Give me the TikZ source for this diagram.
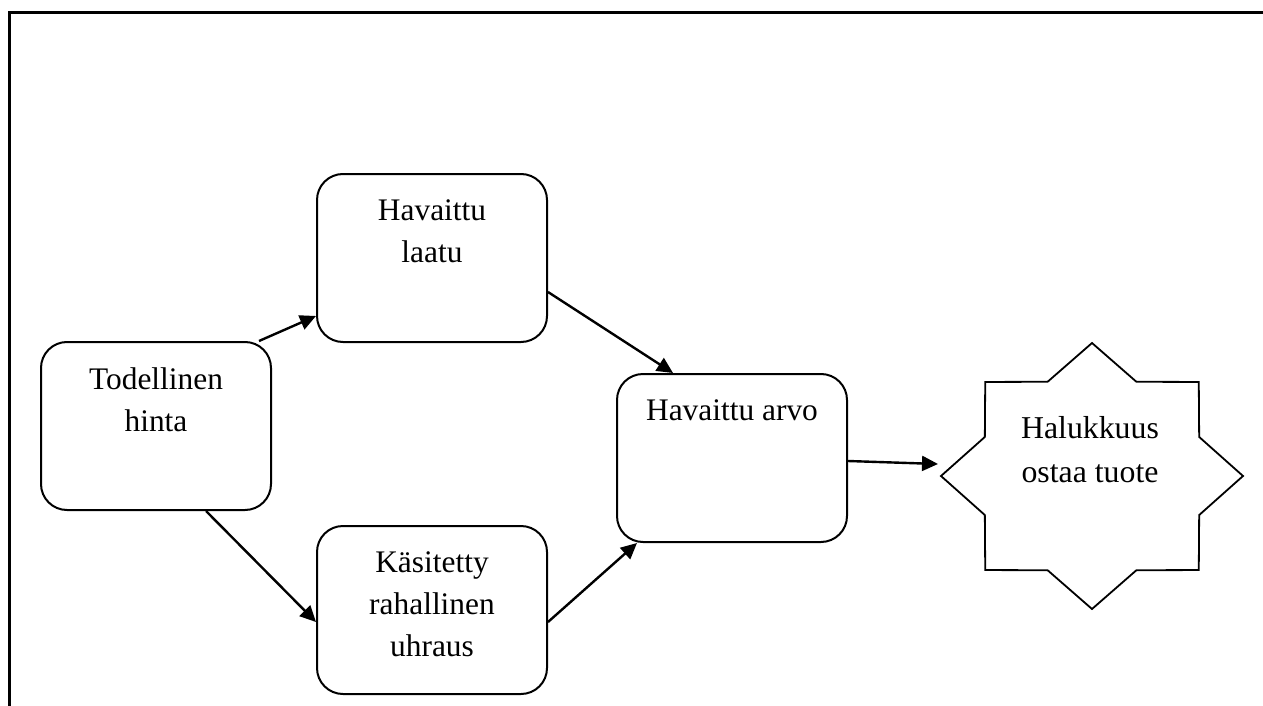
\documentclass[tikz,border=0pt]{standalone}
\usepackage{fontspec}
\setmainfont{Liberation Serif}
\usetikzlibrary{arrows.meta,calc}
\definecolor{ink}{HTML}{000000}
\tikzset{
  box/.style      ={draw=ink, fill=white, line width=1pt, rounded corners=13pt,
                    minimum width=115pt, minimum height=84pt, inner sep=0pt,
                    font=\fontsize{15.7}{21}\selectfont,
                    execute at begin node={\fontsize{15.7}{21}\selectfont
                      \begin{minipage}[c][84pt][t]{115pt}\centering\vspace*{12.8pt}},
                    execute at end node={\end{minipage}}},
  startext/.style ={align=center, font=\fontsize{15.9}{22}\selectfont},
  starline/.style ={draw=ink, line width=0.9pt},
  arr/.style      ={-{Triangle[length=8pt,width=7.5pt]}, line width=1.2pt, draw=ink},
  frame/.style    ={draw=ink, line width=1.5pt},
}
\begin{document}
\begin{tikzpicture}[x=0.5pt,y=-0.5pt]
  \useasboundingbox (0,0) rectangle (1263,706);
  % page frame
  \draw[frame] (9,706) -- (9,13) -- (1263,13);
  % boxes
  \node[box] (price)     at (156,426) {Todellinen\\hinta};
  \node[box] (quality)   at (432,258) {Havaittu\\laatu};
  \node[box] (sacrifice) at (432,610) {Käsitetty\\rahallinen\\uhraus};
  \node[box] (value)     at (732,458) {Havaittu arvo};
  % eight-pointed star
  \coordinate (star) at (1092,476);
  \draw[starline] ($(star)+(151,0)$)
    \foreach \i in {1,...,15} {
      -- ($(star)+({(151-35*mod(\i,2))*cos(22.5*\i)},{(133-31*mod(\i,2))*sin(22.5*\i)})$)
    } -- cycle;
  \node[startext] (want) at ($(star)+(-2,-26)$) {Halukkuus\\ostaa tuote};
  \coordinate (want tip) at ($(star)+(-154,-12)$);
  % arrows
  \draw[arr] ($(price.north east)+(-13,0)$) -- ($(quality.south west)+(0,-27)$);
  \draw[arr] ($(price.south)+(50,0)$) -- ($(sacrifice.west)+(0,12)$);
  \draw[arr] ($(quality.east)+(0,34)$) -- ($(value.north)+(-59,0)$);
  \draw[arr] ($(sacrifice.east)+(0,12)$) -- ($(value.south west)+(21,0)$);
  \draw[arr] ($(value.east)+(0,3)$) -- (want tip);
\end{tikzpicture}
\end{document}
